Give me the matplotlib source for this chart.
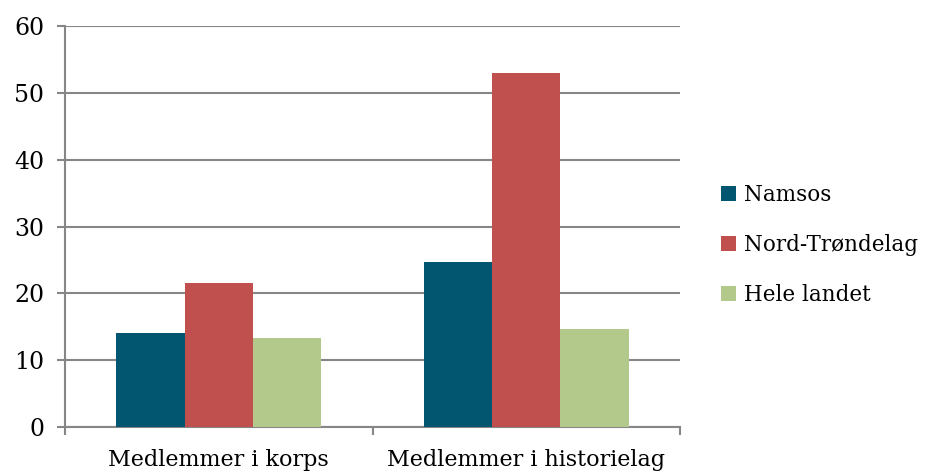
import numpy as np
import matplotlib.pyplot as plt

categories = ["Medlemmer i korps", "Medlemmer i historielag"]
series = ["Namsos", "Nord-Trøndelag", "Hele landet"]
namsos = [14.1, 24.7]
nord_trondelag = [21.6, 53.0]
hele_landet = [13.3, 14.6]
yticks = [0, 10, 20, 30, 40, 50, 60]

colors = ["#03566F", "#C0504D", "#B3C98B"]
grid_c = "#868686"

plt.rcParams["font.family"] = ["DejaVu Serif"]
fig = plt.figure(figsize=(9.27, 4.74), dpi=100)
ax = fig.add_axes([65/927, 47/474, 615/927, 401/474])

x = np.arange(len(categories))
w = 2/9
for i, (name, vals) in enumerate(zip(series, [namsos, nord_trondelag, hele_landet])):
    ax.bar(x + (i - 1) * w, vals, width=w, color=colors[i], label=name, zorder=3)

ax.set_xlim(-0.5, 1.5)
ax.set_ylim(0, 60)
ax.set_yticks(yticks)
ax.set_yticklabels([str(t) for t in yticks], fontsize=17)
ax.yaxis.grid(True, color=grid_c, linewidth=1.5, zorder=0)
ax.set_axisbelow(True)

# category labels between boundary ticks
ax.set_xticks([-0.5, 0.5, 1.5])
ax.set_xticklabels([])
ax.set_xticks(x, minor=True)
ax.set_xticklabels(categories, minor=True, fontsize=16)
ax.tick_params(axis="x", which="minor", length=0, pad=16)
ax.tick_params(axis="x", which="major", length=6, width=1.5, color=grid_c)
ax.tick_params(axis="y", length=6, width=1.5, color=grid_c, pad=9)

for s in ["top", "right"]:
    ax.spines[s].set_visible(False)
for s in ["left", "bottom"]:
    ax.spines[s].set_color(grid_c)
    ax.spines[s].set_linewidth(1.5)

ax.legend(loc="center left", bbox_to_anchor=(702/927, 1 - 245/474),
          bbox_transform=fig.transFigure, frameon=False,
          fontsize=15.5, handlelength=0.7, handleheight=0.7, handletextpad=0.33,
          labelspacing=1.3)

fig.savefig("out.png", dpi=100)
